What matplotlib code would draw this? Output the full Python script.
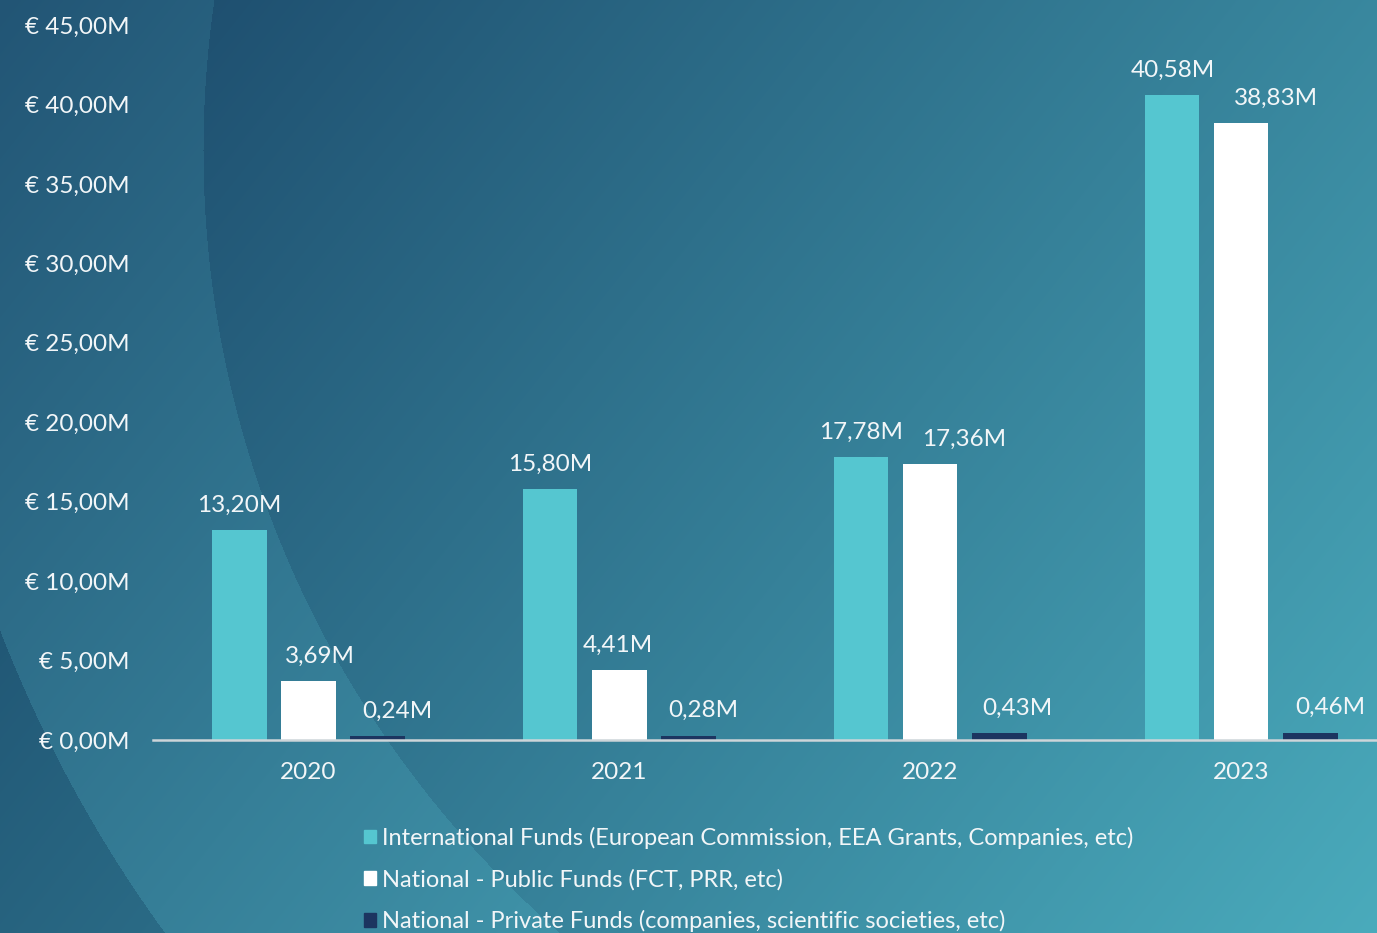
import numpy as np
import matplotlib.pyplot as plt
from matplotlib.patches import Patch

plt.rcParams['font.family'] = ['Lato', 'DejaVu Sans']

years = ['2020', '2021', '2022', '2023']
international = [13.20, 15.80, 17.78, 40.58]
public = [3.69, 4.41, 17.36, 38.83]
private = [0.24, 0.28, 0.43, 0.46]
series_names = [
    'International Funds (European Commission, EEA Grants, Companies, etc)',
    'National - Public Funds (FCT, PRR, etc)',
    'National - Private Funds (companies, scientific societies, etc)',
]
y_ticks = [0, 5, 10, 15, 20, 25, 30, 35, 40, 45]

colors = ['#55c6d0', '#ffffff', '#1c3560']
# small horizontal nudges of the value labels (points), as in the original
label_dx = [[0, 0, 0, 0], [8, -1, 24, 25], [14, 11, 13, 14]]
txt = '#f2f6f8'


def money(v):
    return f'{v:.2f}'.replace('.', ',') + 'M'


def background(w, h):
    yy, xx = np.mgrid[0:h, 0:w].astype(float)
    s = np.clip(0.65 * xx / w + 0.35 * yy / h, 0, 1)[..., None]
    dark = np.array([0x1a, 0x46, 0x68]) / 255
    light = np.array([0x4a, 0xab, 0xbc]) / 255
    img = dark + (light - dark) * s
    r = np.hypot(xx - 1240, yy - 150)
    band = (r > 1037) & (r < 1330)
    img[band] += np.array([8, 15, 13]) / 255
    img[r >= 1330] -= np.array([4, 6, 6]) / 255
    return np.clip(img, 0, 1)


W, H = 1377, 933
fig = plt.figure(figsize=(W / 100, H / 100), dpi=100)

bg = fig.add_axes([0, 0, 1, 1], zorder=-1)
bg.imshow(background(W, H), aspect='auto', extent=(0, 1, 0, 1))
bg.axis('off')

ax = fig.add_axes([153 / W, (H - 740) / H, (W - 153) / W, 715 / H])
ax.patch.set_alpha(0)

x = np.arange(len(years))
width = 0.174
offset = 0.222
for i, vals in enumerate([international, public, private]):
    pos = x + (i - 1) * offset
    ax.bar(pos, vals, width, color=colors[i], zorder=2)
    for j, v in enumerate(vals):
        ax.annotate(money(v), (pos[j], v), xytext=(label_dx[i][j], 18),
                    textcoords='offset points', ha='center', va='center',
                    color=txt, fontsize=17.5)

ax.set_xlim(-0.5, 3.436)
ax.set_ylim(0, 45)
ax.set_yticks(y_ticks)
ax.set_yticklabels([f'€ {t:.2f}'.replace('.', ',') + 'M' for t in y_ticks])
ax.set_xticks(x)
ax.set_xticklabels(years)
ax.tick_params(axis='y', length=0, pad=17, labelsize=17.5, labelcolor=txt)
ax.tick_params(axis='x', length=0, pad=16, labelsize=17.5, labelcolor=txt)
for side in ['top', 'right', 'left']:
    ax.spines[side].set_visible(False)
ax.spines['bottom'].set_color('#cdd5d9')
ax.spines['bottom'].set_linewidth(1.8)
ax.spines['bottom'].set_zorder(3)

handles = [Patch(color=c) for c in colors]
fig.legend(handles, series_names, loc='upper left',
           bbox_to_anchor=(352 / W, 1 - 815 / H), frameon=False,
           borderpad=0, handlelength=0.5, handleheight=0.5,
           handletextpad=0.28, labelspacing=0.84, fontsize=17,
           labelcolor=txt)

fig.savefig('out.png', dpi=100)
